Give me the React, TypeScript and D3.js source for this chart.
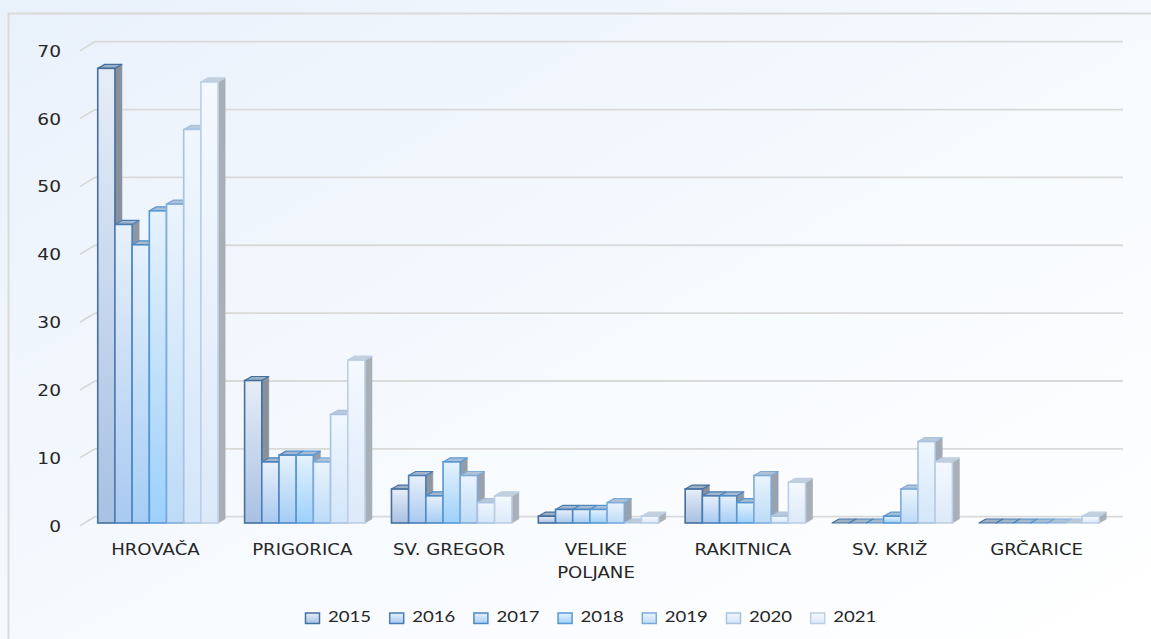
import React, { useEffect, useRef } from "react";
import * as d3 from "d3";

// data
const categories = ["HROVAČA", "PRIGORICA", "SV. GREGOR", "VELIKE POLJANE", "RAKITNICA", "SV. KRIŽ", "GRČARICE"];
const years = ["2015", "2016", "2017", "2018", "2019", "2020", "2021"];
const v2015 = [67, 21, 5, 1, 5, 0, 0];
const v2016 = [44, 9, 7, 2, 4, 0, 0];
const v2017 = [41, 10, 4, 2, 4, 0, 0];
const v2018 = [46, 10, 9, 2, 3, 1, 0];
const v2019 = [47, 9, 7, 3, 7, 5, 0];
const v2020 = [58, 16, 3, 0, 1, 12, 0];
const v2021 = [65, 24, 4, 1, 6, 9, 1];
const yTicks = [0, 10, 20, 30, 40, 50, 60, 70];

const series = [v2015, v2016, v2017, v2018, v2019, v2020, v2021];

// per-year look
const strokeCol = ["#44709f", "#4a7db5", "#4f89c4", "#5898d2", "#7eaadb", "#a7c2e2", "#bccfe6"];
const bottomCol = ["#a8c0e2", "#a9c9f0", "#a5cdf5", "#9dd0fa", "#bcdbf7", "#d3e6f9", "#dde9f9"];
const topCol = ["#e6edf7", "#e8f0fb", "#e6f1fc", "#e5f2fe", "#ebf4fd", "#f0f7fe", "#f4f9fe"];
const sideCol = ["#88919b", "#8d97a1", "#909aa5", "#939da7", "#99a2ac", "#a2aab2", "#a8afb7"];
const capCol = ["#9db0c4", "#a2b6cb", "#a5bad0", "#a8bed4", "#b0c3d6", "#bccad8", "#c4cfda"];

const App = () => {
  const ref = useRef<SVGSVGElement>(null);

  useEffect(() => {
    const W = 1151;
    const H = 639;
    const svg = d3.select(ref.current);
    svg.selectAll("*").remove();

    const frontX0 = 80;
    const frontX1 = 1108;
    const depth = { x: 15, y: -9 }; // back wall offset
    const barShift = 0.3; // where the bars' front face sits in the depth
    const barDepth = { x: 7, y: -4 };

    const y = d3.scaleLinear().domain([0, 70]).range([525.7, 50.7]);
    const x0 = d3.scaleBand().domain(categories).range([frontX0, frontX1]);
    const x1 = d3
      .scaleBand()
      .domain(years)
      .range([0, x0.bandwidth()])
      .paddingInner(0)
      .paddingOuter(0.77);

    const defs = svg.append("defs");
    const bg = defs
      .append("linearGradient")
      .attr("id", "bg")
      .attr("x1", 0)
      .attr("y1", 0)
      .attr("x2", 1)
      .attr("y2", 1);
    bg.append("stop").attr("offset", "0%").attr("stop-color", "#e9f1fb");
    bg.append("stop").attr("offset", "60%").attr("stop-color", "#f8fbff");
    bg.append("stop").attr("offset", "100%").attr("stop-color", "#ffffff");

    years.forEach((yr, i) => {
      const g = defs
        .append("linearGradient")
        .attr("id", "bar" + yr)
        .attr("x1", 0)
        .attr("y1", 0)
        .attr("x2", 0)
        .attr("y2", 1);
      g.append("stop").attr("offset", "0%").attr("stop-color", topCol[i]);
      g.append("stop").attr("offset", "100%").attr("stop-color", bottomCol[i]);
    });

    svg.append("rect").attr("width", W).attr("height", H).attr("fill", "url(#bg)");
    // chart frame
    svg
      .append("rect")
      .attr("x", 8.5)
      .attr("y", 13.5)
      .attr("width", W + 20)
      .attr("height", H + 20)
      .attr("fill", "none")
      .attr("stroke", "#d9d9d9")
      .attr("stroke-width", 2);

    // gridlines with the 3D side wall diagonal
    const grid = svg.append("g").attr("class", "grid");
    yTicks.forEach((t) => {
      const yf = y(t);
      grid
        .append("path")
        .attr(
          "d",
          `M${frontX0},${yf}L${frontX0 + depth.x},${yf + depth.y}L${1123},${yf + depth.y}`
        )
        .attr("fill", "none")
        .attr("stroke", "#d9d9d9")
        .attr("stroke-width", 1.8);
    });

    // value axis labels
    svg
      .append("g")
      .selectAll("text")
      .data(yTicks)
      .enter()
      .append("text")
      .attr("transform", (d) => `translate(61,${y(d) + 6}) scale(1.2,1)`)
      .attr("text-anchor", "end")
      .attr("font-family", "DejaVu Sans, sans-serif")
      .attr("font-size", 15.5)
      .attr("fill", "#262626")
      .text((d) => d);

    // bars, left to right so later bars hide earlier side faces
    const bars = svg.append("g").attr("class", "bars");
    categories.forEach((cat, ci) => {
      years.forEach((yr, si) => {
        const v = series[si][ci];
        const bx = (x0(cat) as number) + (x1(yr) as number) + depth.x * barShift;
        const bw = x1.bandwidth();
        const base = y(0) + depth.y * barShift;
        const top = y(v) + depth.y * barShift;
        const g = bars.append("g");
        // side face
        g.append("path")
          .attr(
            "d",
            `M${bx + bw},${top}L${bx + bw + barDepth.x},${top + barDepth.y}L${bx + bw + barDepth.x},${base + barDepth.y}L${bx + bw},${base}Z`
          )
          .attr("fill", sideCol[si])
          .attr("stroke", sideCol[si])
          .attr("stroke-width", 0.6);
        // top face
        g.append("path")
          .attr(
            "d",
            `M${bx},${top}L${bx + barDepth.x},${top + barDepth.y}L${bx + bw + barDepth.x},${top + barDepth.y}L${bx + bw},${top}Z`
          )
          .attr("fill", capCol[si])
          .attr("stroke", strokeCol[si])
          .attr("stroke-width", 1.2)
          .attr("stroke-linejoin", "round");
        // front face
        g.append("rect")
          .attr("x", bx)
          .attr("y", top)
          .attr("width", bw)
          .attr("height", Math.max(0, base - top))
          .attr("fill", `url(#bar${yr})`)
          .attr("stroke", strokeCol[si])
          .attr("stroke-width", 1.6);
      });
    });

    // category labels
    const catG = svg.append("g").attr("class", "cats");
    categories.forEach((cat) => {
      const lines = cat.length > 12 ? cat.split(" ") : [cat];
      const cx = (x0(cat) as number) + x0.bandwidth() / 2 + 2;
      lines.forEach((line, li) => {
        catG
          .append("text")
          .attr("transform", `translate(${cx},${555 + li * 23}) scale(1.17,1)`)
          .attr("text-anchor", "middle")
          .attr("font-family", "DejaVu Sans, sans-serif")
          .attr("font-size", 15.5)
          .attr("fill", "#262626")
          .text(line);
      });
    });

    // legend
    const legend = svg.append("g").attr("transform", "translate(305,613)");
    const entries = legend
      .selectAll(".legend-entry")
      .data(years)
      .enter()
      .append("g")
      .attr("class", "legend-entry")
      .attr("transform", (d, i) => `translate(${i * 84.2},0)`);
    entries
      .append("rect")
      .attr("x", 0.5)
      .attr("y", 0)
      .attr("width", 14)
      .attr("height", 10.5)
      .attr("fill", (d) => `url(#bar${d})`)
      .attr("stroke", (d, i) => strokeCol[i])
      .attr("stroke-width", 1.5);
    entries
      .append("text")
      .attr("transform", "translate(23,9) scale(1.24,1)")
      .attr("font-family", "Lato, sans-serif")
      .attr("font-size", 15)
      .attr("fill", "#262626")
      .text((d) => d);
  }, []);

  return (
    <div style={{ position: "absolute", left: 0, top: 0 }}>
      <svg ref={ref} width={1151} height={639} style={{ display: "block" }}></svg>
    </div>
  );
};

export default App;
